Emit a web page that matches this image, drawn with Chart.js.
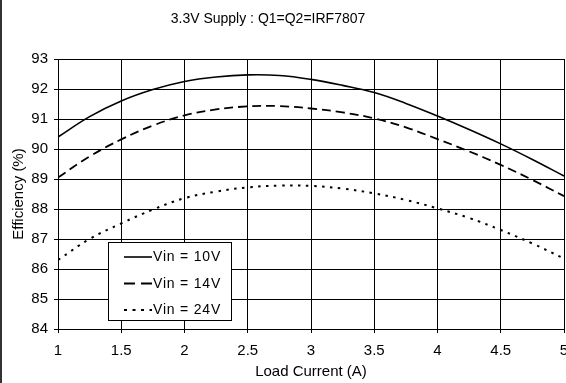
<!DOCTYPE html>
<html>
<head>
<meta charset="utf-8">
<script src="https://cdn.jsdelivr.net/npm/chart.js@4"></script>
<style>
  html, body { margin: 0; padding: 0; background: #fff; }
  #wrap { width: 566px; height: 383px; position: relative; }
</style>
</head>
<body>
<div id="wrap"><canvas id="effChart"></canvas></div>
<script>
// Corriente de carga (A)
const loadCurrent = [1, 1.25, 1.5, 1.75, 2, 2.25, 2.5, 2.75, 3, 3.25, 3.5, 3.75, 4, 4.25, 4.5, 4.75, 5];

// Eficiencia (%) para cada Vin
const vin10 = [90.4, 91.08, 91.6, 91.98, 92.25, 92.4, 92.47, 92.45, 92.32, 92.12, 91.88, 91.52, 91.1, 90.65, 90.17, 89.65, 89.1];
const vin14 = [89.05, 89.75, 90.32, 90.78, 91.12, 91.32, 91.42, 91.43, 91.35, 91.22, 91.02, 90.72, 90.33, 89.92, 89.47, 88.97, 88.43];
const vin24 = [86.3, 87.0, 87.52, 87.98, 88.36, 88.58, 88.72, 88.78, 88.77, 88.68, 88.52, 88.3, 88.02, 87.7, 87.3, 86.85, 86.35];

const seriesLabels = ['Vin = 10V', 'Vin = 14V', 'Vin = 24V'];
const chartTitle = '3.3V Supply : Q1=Q2=IRF7807';

const FONT = 'Arial, "Liberation Sans", sans-serif';

function toPoints(ys) {
    return loadCurrent.map((x, i) => ({ x: x, y: ys[i] }));
}

// Título y marco izquierdo dibujados a mano
const titlePlugin = {
    id: 'titlePlugin',
    afterDraw(chart) {
        const ctx = chart.ctx;
        ctx.save();
        ctx.fillStyle = '#000';
        ctx.font = '14px ' + FONT;
        ctx.textAlign = 'center';
        ctx.textBaseline = 'middle';
        ctx.fillText(chartTitle, 268, 19);
        // marco a la izquierda
        ctx.fillStyle = '#333';
        ctx.fillRect(0, 0, 2, chart.height);
        ctx.restore();
    }
};

// Leyenda en caja dentro del área de la gráfica
const boxLegend = {
    id: 'boxLegend',
    afterDatasetsDraw(chart) {
        const ctx = chart.ctx;
        const bx = 108.5, by = 242.5, bw = 123, bh = 78;
        ctx.save();
        ctx.fillStyle = '#fff';
        ctx.fillRect(bx, by, bw, bh);
        ctx.strokeStyle = '#000';
        ctx.lineWidth = 1;
        ctx.strokeRect(bx, by, bw, bh);
        ctx.font = '14px ' + FONT;
        ctx.letterSpacing = '0.8px';
        ctx.textBaseline = 'middle';
        ctx.textAlign = 'left';
        chart.data.datasets.forEach((ds, i) => {
            const y = 257 + i * 26.5;
            ctx.beginPath();
            ctx.setLineDash(ds.legendDash || []);
            ctx.lineWidth = ds.borderWidth;
            ctx.strokeStyle = ds.borderColor;
            ctx.moveTo(124, y);
            ctx.lineTo(152, y);
            ctx.stroke();
            ctx.setLineDash([]);
            ctx.fillStyle = '#000';
            ctx.fillText(ds.label, 153, y + 0.5);
        });
        ctx.restore();
    }
};

const ctx = document.getElementById('effChart').getContext('2d');
new Chart(ctx, {
    type: 'line',
    data: {
        datasets: [{
            label: seriesLabels[0],
            data: toPoints(vin10),
            borderColor: '#000',
            borderWidth: 1.6,
            pointRadius: 0,
            tension: 0.4,
            fill: false
        }, {
            label: seriesLabels[1],
            data: toPoints(vin14),
            borderColor: '#000',
            borderWidth: 1.8,
            borderDash: [9, 5],
            legendDash: [11, 6],
            pointRadius: 0,
            tension: 0.4,
            fill: false
        }, {
            label: seriesLabels[2],
            data: toPoints(vin24),
            borderColor: '#000',
            borderWidth: 2,
            borderDash: [2.5, 5.5],
            legendDash: [3, 5.5],
            pointRadius: 0,
            tension: 0.4,
            fill: false
        }]
    },
    options: {
        responsive: true,
        maintainAspectRatio: false,
        animation: false,
        layout: { padding: { top: 59, right: 2, left: 0, bottom: 0 } },
        plugins: {
            legend: { display: false },
            tooltip: { enabled: false },
            title: { display: false }
        },
        scales: {
            x: {
                type: 'linear',
                min: 1,
                max: 5,
                ticks: {
                    stepSize: 0.5,
                    color: '#000',
                    padding: 9,
                    font: { family: FONT, size: 15 },
                    maxRotation: 0,
                    callback: v => String(v)
                },
                grid: { color: '#000', lineWidth: 1, tickLength: 4 },
                border: { color: '#000' },
                title: {
                    display: true,
                    text: 'Load Current (A)',
                    color: '#000',
                    font: { family: FONT, size: 15 },
                    padding: { top: 0, bottom: 2 }
                },
                afterFit: s => { s.height = 54; s.paddingRight = 0; s.paddingLeft = 0; }
            },
            y: {
                min: 84,
                max: 93,
                ticks: {
                    stepSize: 1,
                    color: '#000',
                    padding: 6,
                    font: { family: FONT, size: 15 }
                },
                grid: { color: '#000', lineWidth: 1, tickLength: 4 },
                border: { color: '#000' },
                title: {
                    display: true,
                    text: 'Efficiency (%)',
                    color: '#000',
                    font: { family: FONT, size: 15 },
                    padding: { top: 10, bottom: 0 }
                },
                afterFit: s => { s.width = 58; }
            }
        }
    },
    plugins: [titlePlugin, boxLegend]
});
</script>
</body>
</html>
